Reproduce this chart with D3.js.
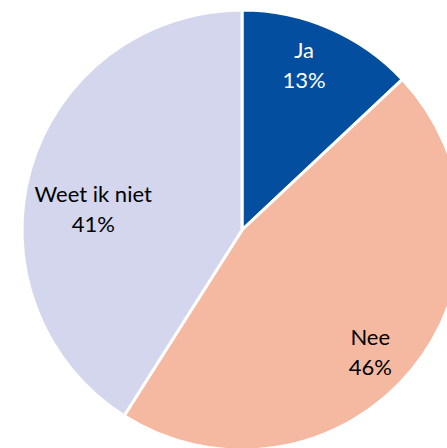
<!DOCTYPE html>
<html>
<head>
<meta charset="utf-8">
<script src="https://cdn.jsdelivr.net/npm/d3@7"></script>
<style>
  html, body { margin: 0; padding: 0; background: #ffffff; overflow: hidden; }
  svg { display: block; }
</style>
</head>
<body>
<svg id="chart" width="447" height="448"></svg>
<script>
const categories = ["Ja", "Nee", "Weet ik niet"];
const values = [13, 46, 41];
const valueLabels = ["13%", "46%", "41%"];
const colors = ["#034E9E", "#F5B8A1", "#D3D6EC"];
const labelColors = ["#ffffff", "#000000", "#000000"];

const W = 447, H = 448;
const cx = 242, cy = 230, R = 220;

const svg = d3.select("#chart");
const g = svg.append("g").attr("transform", `translate(${cx},${cy})`);

const data = categories.map((c, i) => ({ name: c, value: values[i], label: valueLabels[i], i }));

const pie = d3.pie().value(d => d.value).sort(null);
const arcs = pie(data);

const arc = d3.arc().innerRadius(0).outerRadius(R);

g.selectAll("path.slice")
  .data(arcs)
  .enter().append("path")
  .attr("class", "slice")
  .attr("d", arc)
  .attr("fill", d => colors[d.data.i])
  .attr("stroke", "#ffffff")
  .attr("stroke-width", 3)
  .attr("stroke-linejoin", "miter");

// label placement (best-fit style nudges)
const labelArc = d3.arc().innerRadius(R * 0.78).outerRadius(R * 0.78);
const nudge = [[-6, -8], [-4, 13], [16, 27]];

const labels = g.selectAll("g.lbl")
  .data(arcs)
  .enter().append("g")
  .attr("class", "lbl")
  .attr("transform", d => {
    const [x, y] = labelArc.centroid(d);
    const n = nudge[d.data.i];
    return `translate(${x + n[0]},${y + n[1]})`;
  });

labels.append("text")
  .attr("text-anchor", "middle")
  .attr("y", -7)
  .attr("font-family", "Lato, 'Open Sans', sans-serif")
  .attr("font-size", 22)
  .attr("fill", d => labelColors[d.data.i])
  .text(d => d.data.name);

labels.append("text")
  .attr("text-anchor", "middle")
  .attr("y", 23)
  .attr("font-family", "Lato, 'Open Sans', sans-serif")
  .attr("font-size", 22)
  .attr("fill", d => labelColors[d.data.i])
  .text(d => d.data.label);
</script>
</body>
</html>
